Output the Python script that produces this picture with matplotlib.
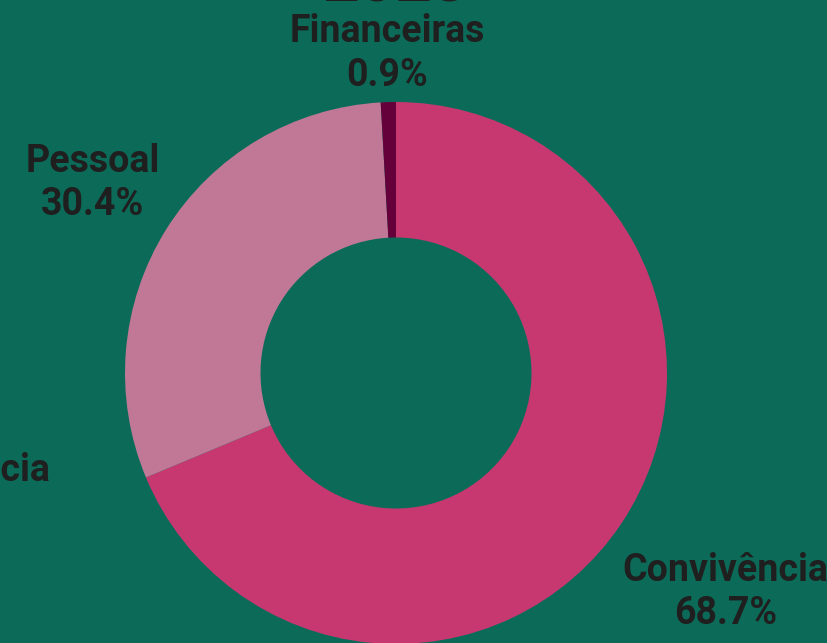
import numpy as np
import matplotlib.pyplot as plt

# data
categories = ["Convivência", "Emergência", "Pessoal", "Financeiras"]
values = [68.7, 0.0, 30.4, 0.9]
colors = ["#C73870", "#8E2050", "#C07896", "#66003A"]
title = "2023"

# label distance from centre (in radii), per category
label_dist = [1.46, 1.70, 1.32, 1.18]

bg = "#0B6B58"
txt = "#1F1F1F"
font = ["Roboto", "DejaVu Sans"]

fig = plt.figure(figsize=(8.28, 6.43), dpi=100, facecolor=bg)
ax = fig.add_axes([0, 0, 1, 1])
ax.set_facecolor(bg)

wedges, _ = ax.pie(values, colors=colors, startangle=90, counterclock=False,
                   radius=1.0, wedgeprops=dict(width=0.5, linewidth=0))

total = sum(values)
for w, name, v, d in zip(wedges, categories, values, label_dist):
    theta = np.deg2rad((w.theta1 + w.theta2) / 2)
    if v == 0:
        theta = np.deg2rad(195)
    ax.text(d * np.cos(theta), d * np.sin(theta), f"{name}\n{v / total * 100:.1f}%",
            ha="center", va="center", multialignment="center", fontsize=27,
            fontweight="bold", color=txt, family=font, linespacing=1.22)

ax.text(0.0, 1.372, title, ha="center", va="baseline", fontsize=46,
        fontweight="bold", color=txt, family=font)

# centre at (396, 373) px, radius 271 px
r = 271
ax.set_xlim(-396 / r, (828 - 396) / r)
ax.set_ylim(-(643 - 373) / r, 373 / r)
ax.set_aspect("auto")
ax.axis("off")

fig.savefig("out.png", dpi=100, facecolor=bg)
